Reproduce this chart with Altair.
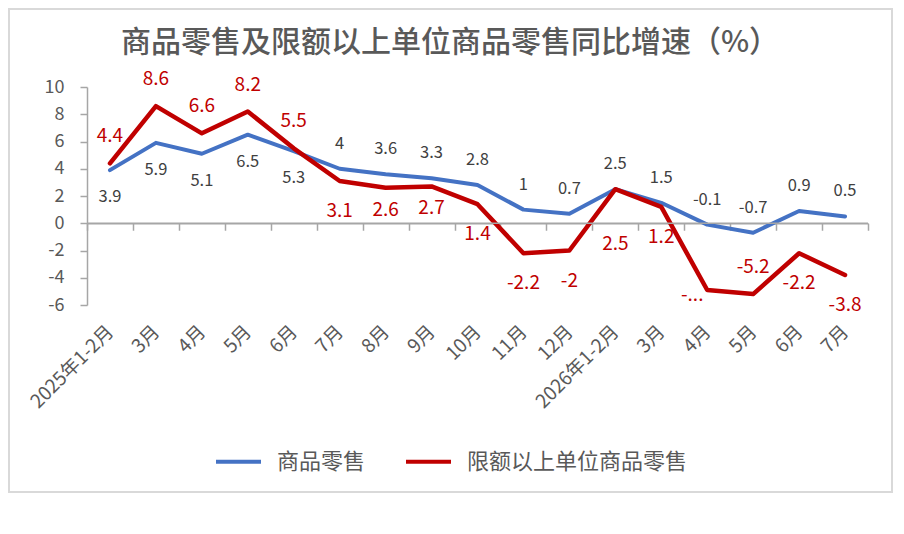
import json
import altair as alt
import pandas as pd

FONT = "Noto Sans CJK SC"
AX = "#a6a6a6"
TXT = "#595959"

title_text = "商品零售及限额以上单位商品零售同比增速（%）"
months = ["2025年1-2月", "3月", "4月", "5月", "6月", "7月", "8月", "9月", "10月",
          "11月", "12月", "2026年1-2月", "3月", "4月", "5月", "6月", "7月"]
series_names = ["商品零售", "限额以上单位商品零售"]
colors = ["#4472C4", "#C00000"]
y_ticks = [-6, -4, -2, 0, 2, 4, 6, 8, 10]

retail = [3.9, 5.9, 5.1, 6.5, 5.3, 4, 3.6, 3.3, 2.8, 1, 0.7, 2.5, 1.5, -0.1, -0.7, 0.9, 0.5]
retail_labels = ["3.9", "5.9", "5.1", "6.5", "5.3", "4", "3.6", "3.3", "2.8", "1", "0.7",
                 "2.5", "1.5", "-0.1", "-0.7", "0.9", "0.5"]
retail_pos = ["below"] * 5 + ["above"] * 12

above_quota = [4.4, 8.6, 6.6, 8.2, 5.5, 3.1, 2.6, 2.7, 1.4, -2.2, -2, 2.5, 1.2, -4.9, -5.2, -2.2, -3.8]
above_quota_labels = ["4.4", "8.6", "6.6", "8.2", "5.5", "3.1", "2.6", "2.7", "1.4", "-2.2", "-2",
                      "2.5", "1.2", "-...", "-5.2", "-2.2", "-3.8"]
above_quota_pos = ["above"] * 5 + ["below", "below_close", "below_close", "below", "below", "below",
                                   "below_far", "below", "near", "above", "below", "below"]

rows = []
for i in range(len(months)):
    rows.append(dict(idx=i, series=series_names[0], value=retail[i],
                     label=retail_labels[i], pos=retail_pos[i]))
for i in range(len(months)):
    rows.append(dict(idx=i, series=series_names[1], value=above_quota[i],
                     label=above_quota_labels[i], pos=above_quota_pos[i]))
df = pd.DataFrame(rows)

W, H = 781, 218
zero_from_bottom = H * 6 / 16

label_expr = json.dumps(months, ensure_ascii=False) + "[datum.value]"

x_axis = alt.Axis(
    title=None, labelExpr=label_expr, labelAngle=315, labelAlign="right",
    labelBaseline="middle", labelFontSize=19, labelColor=TXT, labelFont=FONT,
    tickBand="extent", tickSize=7, tickColor=AX, tickWidth=1.5,
    domainColor=AX, domainWidth=1.5, offset=-zero_from_bottom,
    labelPadding=98, grid=False, labelOverlap=False,
)
y_axis = alt.Axis(
    title=None, values=y_ticks, labelExpr="datum.value + ''", labelFontSize=18,
    labelColor=TXT, labelFont=FONT, tickSize=7, tickColor=AX, tickWidth=1.5,
    domainColor=AX, domainWidth=1.5, labelPadding=16, grid=False,
    labelOverlap=False,
)
y_scale = alt.Scale(domain=[-6, 10], nice=False, zero=False)

x_enc = alt.X("idx:O", bandPosition=0.5,
              scale=alt.Scale(type="band", paddingInner=0, paddingOuter=0), axis=x_axis)
y_enc = alt.Y("value:Q", scale=y_scale, axis=y_axis)
color_enc = alt.Color(
    "series:N",
    scale=alt.Scale(domain=series_names, range=colors),
    legend=alt.Legend(
        title=None, orient="none", legendX=127, legendY=350, direction="horizontal",
        symbolType="stroke", symbolStrokeWidth=4, symbolSize=2025,
        labelFontSize=22, labelColor=TXT, labelFont=FONT, labelOffset=14,
        columnPadding=32, labelLimit=400,
    ),
)

base = alt.Chart(df)
zero_rule = base.transform_filter(
    (alt.datum.idx == 0) & (alt.datum.series == series_names[0])
).mark_rule(color=AX, strokeWidth=1.5).encode(
    y=alt.Y(datum=0, scale=y_scale, axis=y_axis), x=alt.value(0), x2=alt.value(W)
)

line_blue = base.transform_filter(alt.datum.series == series_names[0]).mark_line(
    strokeWidth=4, strokeCap="round", strokeJoin="round"
).encode(x=x_enc, y=y_enc, color=color_enc)
line_red = base.transform_filter(alt.datum.series == series_names[1]).mark_line(
    strokeWidth=4.5, strokeCap="round", strokeJoin="round"
).encode(x=x_enc, y=y_enc, color=color_enc)

label_styles = {
    series_names[0]: dict(color="#404040", size=16.5,
                          offsets={"above": (0, -25), "below": (0, 27)}),
    series_names[1]: dict(color="#C00000", size=19,
                          offsets={"above": (0, -27), "below": (0, 30), "below_close": (0, 22),
                                   "below_far": (0, 55), "near": (-15, 5)}),
}
label_layers = []
for s, st in label_styles.items():
    for g, (dx, dy) in st["offsets"].items():
        label_layers.append(
            base.transform_filter((alt.datum.series == s) & (alt.datum.pos == g))
            .mark_text(dx=dx, dy=dy, fontSize=st["size"], color=st["color"], font=FONT,
                       baseline="middle", align="center")
            .encode(x=x_enc, y=y_enc, text="label:N")
        )

title_mark = alt.Chart(pd.DataFrame({"t": [title_text]})).mark_text(
    fontSize=30, font=FONT, color=TXT, fontWeight=500, baseline="middle", align="center"
).encode(x=alt.value(363), y=alt.value(-44), text="t:N")

frame = alt.Chart(pd.DataFrame({"a": [0]})).mark_rect(
    fillOpacity=0, stroke="#d9d9d9", strokeWidth=2
).encode(x=alt.value(-78), x2=alt.value(805), y=alt.value(-78), y2=alt.value(405))

chart = alt.layer(frame, title_mark, line_blue, line_red, zero_rule, *label_layers).properties(
    width=W, height=H,
    background="white",
    autosize=alt.AutoSizeParams(type="none"),
    padding={"left": 79, "top": 79, "right": 28, "bottom": 221},
).configure_view(strokeWidth=0)

chart.save("out.html", embed_options={"renderer": "svg", "actions": False})
